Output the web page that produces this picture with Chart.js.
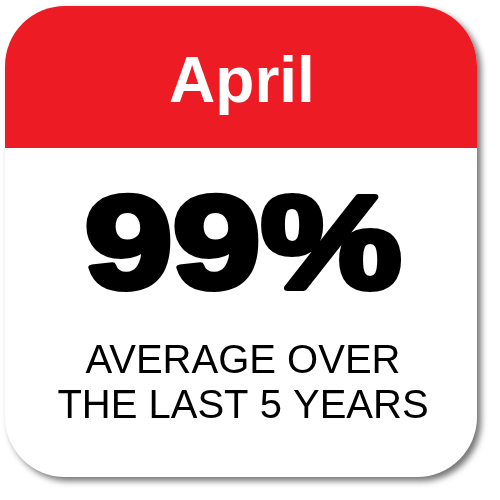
<!DOCTYPE html>
<html lang="en">
<head>
    <meta charset="UTF-8">
    <script src="https://cdn.jsdelivr.net/npm/chart.js"></script>
    <title>April average</title>
    <style>
        html, body { margin: 0; padding: 0; background: #fff; }
        #wrap { width: 500px; height: 500px; }
    </style>
</head>
<body>
<div id="wrap"><canvas id="tileChart"></canvas></div>
<script>
    // values
    const months = ['April'];
    const averages = [99];
    const captionLines = ['AVERAGE OVER', 'THE LAST 5 YEARS'];

    function roundRect(ctx, x, y, w, h, r) {
        ctx.beginPath();
        ctx.moveTo(x + r, y);
        ctx.arcTo(x + w, y, x + w, y + h, r);
        ctx.arcTo(x + w, y + h, x, y + h, r);
        ctx.arcTo(x, y + h, x, y, r);
        ctx.arcTo(x, y, x + w, y, r);
        ctx.closePath();
    }

    // draws the calendar tile behind/around the (empty) chart area
    const tilePlugin = {
        id: 'tile',
        beforeDraw(chart) {
            const ctx = chart.ctx;
            const x = 5, y = 6, w = 472, h = 471, r = 60, head = 142;
            const cx = x + w / 2 + 1;

            ctx.save();
            ctx.shadowColor = 'rgba(0,0,0,0.55)';
            ctx.shadowBlur = 6;
            ctx.shadowOffsetX = 4;
            ctx.shadowOffsetY = 4;
            roundRect(ctx, x, y, w, h, r);
            ctx.fillStyle = '#ffffff';
            ctx.fill();
            ctx.restore();

            // red header
            ctx.save();
            roundRect(ctx, x, y, w, h, r);
            ctx.clip();
            ctx.fillStyle = '#ED1C24';
            ctx.fillRect(x, y, w, head);
            ctx.restore();

            ctx.save();
            ctx.textAlign = 'center';
            ctx.textBaseline = 'alphabetic';

            ctx.fillStyle = '#ffffff';
            ctx.font = 'bold 64px "Liberation Sans", Arial, sans-serif';
            ctx.fillText(months[0], cx, 102);

            // big number, widened and stroked to look like a black weight
            ctx.save();
            ctx.translate(cx + 1, 288);
            ctx.scale(1.2, 1);
            ctx.font = 'bold 132px "Liberation Sans", Arial, sans-serif';
            ctx.fillStyle = '#000';
            ctx.strokeStyle = '#000';
            ctx.lineWidth = 6;
            ctx.lineJoin = 'round';
            const label = averages[0] + '%';
            ctx.fillText(label, 0, 0);
            ctx.strokeText(label, 0, 0);
            ctx.restore();

            ctx.fillStyle = '#000';
            ctx.font = '40px "Liberation Sans", Arial, sans-serif';
            captionLines.forEach((line, i) => {
                ctx.fillText(line, cx + 1, 373 + i * 45);
            });
            ctx.restore();
        }
    };

    new Chart(document.getElementById('tileChart'), {
        type: 'bar',
        data: {
            labels: months,
            datasets: [{ data: [], backgroundColor: 'transparent' }]
        },
        options: {
            responsive: true,
            maintainAspectRatio: false,
            animation: false,
            events: [],
            plugins: { legend: { display: false }, tooltip: { enabled: false } },
            scales: { x: { display: false }, y: { display: false } }
        },
        plugins: [tilePlugin]
    });
</script>
</body>
</html>
